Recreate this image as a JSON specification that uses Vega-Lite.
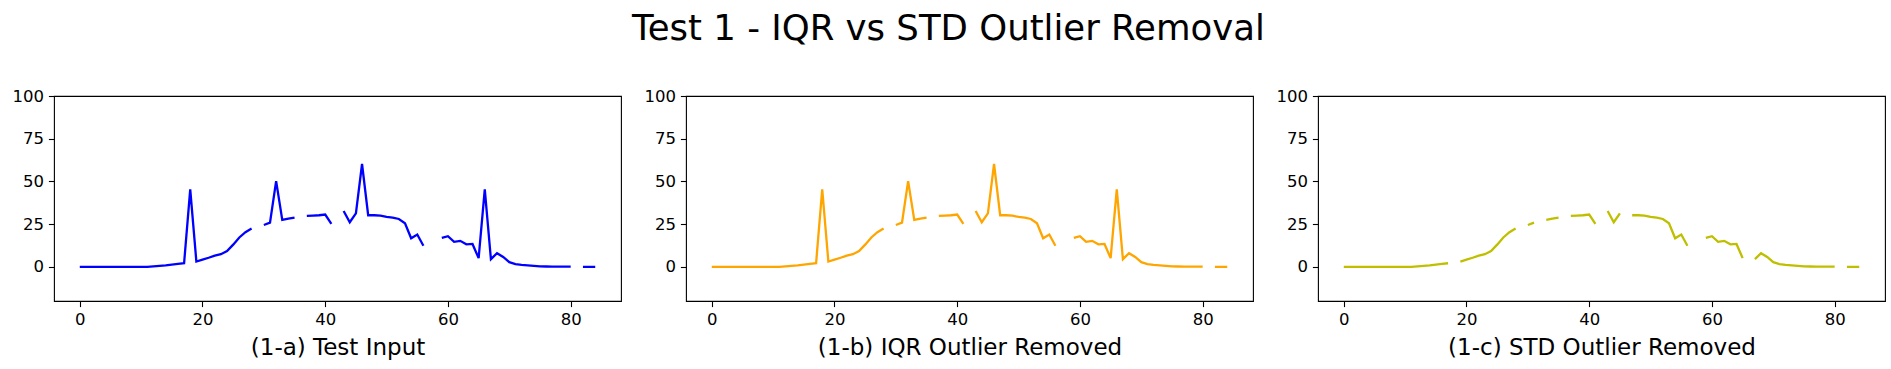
{
  "$schema": "https://vega.github.io/schema/vega-lite/v6.json",
  "padding": {"left": 11, "top": 12, "right": 5, "bottom": 5},
  "title": {"text": "Test 1 - IQR vs STD Outlier Removal", "fontSize": 35.5, "font": "DejaVu Sans", "fontWeight": "normal", "anchor": "middle", "color": "#000", "offset": 39.5},
  "datasets": {
    "input": [
      {"x":0,"v":0},{"x":1,"v":0},{"x":2,"v":0},{"x":3,"v":0},{"x":4,"v":0},{"x":5,"v":0},{"x":6,"v":0},{"x":7,"v":0},{"x":8,"v":0},{"x":9,"v":0},{"x":10,"v":0},{"x":11,"v":0},
      {"x":12,"v":0.3},{"x":13,"v":0.6},{"x":14,"v":0.9},{"x":15,"v":1.3},{"x":16,"v":1.7},{"x":17,"v":2.1},{"x":18,"v":45.3},{"x":19,"v":3.1},{"x":20,"v":4.2},{"x":21,"v":5.3},{"x":22,"v":6.6},{"x":23,"v":7.4},{"x":24,"v":9.2},{"x":25,"v":13.0},{"x":26,"v":17.2},{"x":27,"v":20.3},{"x":28,"v":22.4},{"x":29,"v":null},
      {"x":30,"v":24.5},{"x":31,"v":25.9},{"x":32,"v":50.2},{"x":33,"v":27.5},{"x":34,"v":28.2},{"x":35,"v":28.8},{"x":36,"v":null},{"x":37,"v":29.8},{"x":38,"v":30.0},{"x":39,"v":30.2},{"x":40,"v":30.6},{"x":41,"v":25.2},{"x":42,"v":null},
      {"x":43,"v":32.7},{"x":44,"v":26.1},{"x":45,"v":31.3},{"x":46,"v":60.2},{"x":47,"v":30.2},{"x":48,"v":30.2},{"x":49,"v":30.0},{"x":50,"v":29.2},{"x":51,"v":28.8},{"x":52,"v":28.0},{"x":53,"v":25.5},{"x":54,"v":16.7},{"x":55,"v":18.9},{"x":56,"v":12.3},{"x":57,"v":null},{"x":58,"v":null},
      {"x":59,"v":16.9},{"x":60,"v":17.9},{"x":61,"v":14.6},{"x":62,"v":15.2},{"x":63,"v":13.2},{"x":64,"v":13.4},{"x":65,"v":5.1},{"x":66,"v":45.4},{"x":67,"v":4.5},{"x":68,"v":8.0},{"x":69,"v":5.8},{"x":70,"v":2.7},{"x":71,"v":1.6},{"x":72,"v":1.2},{"x":73,"v":0.9},{"x":74,"v":0.6},{"x":75,"v":0.3},{"x":76,"v":0.2},{"x":77,"v":0.1},{"x":78,"v":0.1},{"x":79,"v":0.1},{"x":80,"v":0.1},{"x":81,"v":null},{"x":82,"v":0},{"x":83,"v":0},{"x":84,"v":0}
    ],
    "iqr": [
      {"x":0,"v":0},{"x":1,"v":0},{"x":2,"v":0},{"x":3,"v":0},{"x":4,"v":0},{"x":5,"v":0},{"x":6,"v":0},{"x":7,"v":0},{"x":8,"v":0},{"x":9,"v":0},{"x":10,"v":0},{"x":11,"v":0},
      {"x":12,"v":0.3},{"x":13,"v":0.6},{"x":14,"v":0.9},{"x":15,"v":1.3},{"x":16,"v":1.7},{"x":17,"v":2.1},{"x":18,"v":45.3},{"x":19,"v":3.1},{"x":20,"v":4.2},{"x":21,"v":5.3},{"x":22,"v":6.6},{"x":23,"v":7.4},{"x":24,"v":9.2},{"x":25,"v":13.0},{"x":26,"v":17.2},{"x":27,"v":20.3},{"x":28,"v":22.4},{"x":29,"v":null},
      {"x":30,"v":24.5},{"x":31,"v":25.9},{"x":32,"v":50.2},{"x":33,"v":27.5},{"x":34,"v":28.2},{"x":35,"v":28.8},{"x":36,"v":null},{"x":37,"v":29.8},{"x":38,"v":30.0},{"x":39,"v":30.2},{"x":40,"v":30.6},{"x":41,"v":25.2},{"x":42,"v":null},
      {"x":43,"v":32.7},{"x":44,"v":26.1},{"x":45,"v":31.3},{"x":46,"v":60.2},{"x":47,"v":30.2},{"x":48,"v":30.2},{"x":49,"v":30.0},{"x":50,"v":29.2},{"x":51,"v":28.8},{"x":52,"v":28.0},{"x":53,"v":25.5},{"x":54,"v":16.7},{"x":55,"v":18.9},{"x":56,"v":12.3},{"x":57,"v":null},{"x":58,"v":null},
      {"x":59,"v":16.9},{"x":60,"v":17.9},{"x":61,"v":14.6},{"x":62,"v":15.2},{"x":63,"v":13.2},{"x":64,"v":13.4},{"x":65,"v":5.1},{"x":66,"v":45.4},{"x":67,"v":4.5},{"x":68,"v":8.0},{"x":69,"v":5.8},{"x":70,"v":2.7},{"x":71,"v":1.6},{"x":72,"v":1.2},{"x":73,"v":0.9},{"x":74,"v":0.6},{"x":75,"v":0.3},{"x":76,"v":0.2},{"x":77,"v":0.1},{"x":78,"v":0.1},{"x":79,"v":0.1},{"x":80,"v":0.1},{"x":81,"v":null},{"x":82,"v":0},{"x":83,"v":0},{"x":84,"v":0}
    ],
    "std": [
      {"x":0,"v":0},{"x":1,"v":0},{"x":2,"v":0},{"x":3,"v":0},{"x":4,"v":0},{"x":5,"v":0},{"x":6,"v":0},{"x":7,"v":0},{"x":8,"v":0},{"x":9,"v":0},{"x":10,"v":0},{"x":11,"v":0},
      {"x":12,"v":0.3},{"x":13,"v":0.6},{"x":14,"v":0.9},{"x":15,"v":1.3},{"x":16,"v":1.7},{"x":17,"v":2.1},{"x":18,"v":null},{"x":19,"v":3.1},{"x":20,"v":4.2},{"x":21,"v":5.3},{"x":22,"v":6.6},{"x":23,"v":7.4},{"x":24,"v":9.2},{"x":25,"v":13.0},{"x":26,"v":17.2},{"x":27,"v":20.3},{"x":28,"v":22.4},{"x":29,"v":null},
      {"x":30,"v":24.5},{"x":31,"v":25.9},{"x":32,"v":null},{"x":33,"v":27.5},{"x":34,"v":28.2},{"x":35,"v":28.8},{"x":36,"v":null},{"x":37,"v":29.8},{"x":38,"v":30.0},{"x":39,"v":30.2},{"x":40,"v":30.6},{"x":41,"v":25.2},{"x":42,"v":null},
      {"x":43,"v":32.7},{"x":44,"v":26.1},{"x":45,"v":31.3},{"x":46,"v":null},{"x":47,"v":30.2},{"x":48,"v":30.2},{"x":49,"v":30.0},{"x":50,"v":29.2},{"x":51,"v":28.8},{"x":52,"v":28.0},{"x":53,"v":25.5},{"x":54,"v":16.7},{"x":55,"v":18.9},{"x":56,"v":12.3},{"x":57,"v":null},{"x":58,"v":null},
      {"x":59,"v":16.9},{"x":60,"v":17.9},{"x":61,"v":14.6},{"x":62,"v":15.2},{"x":63,"v":13.2},{"x":64,"v":13.4},{"x":65,"v":5.1},{"x":66,"v":null},{"x":67,"v":4.5},{"x":68,"v":8.0},{"x":69,"v":5.8},{"x":70,"v":2.7},{"x":71,"v":1.6},{"x":72,"v":1.2},{"x":73,"v":0.9},{"x":74,"v":0.6},{"x":75,"v":0.3},{"x":76,"v":0.2},{"x":77,"v":0.1},{"x":78,"v":0.1},{"x":79,"v":0.1},{"x":80,"v":0.1},{"x":81,"v":null},{"x":82,"v":0},{"x":83,"v":0},{"x":84,"v":0}
    ]
  },
  "spacing": 21,
  "hconcat": [
    {
      "width": 567, "height": 205,
      "data": {"name": "input"},
      "mark": {"type": "line", "color": "#0000ff", "strokeWidth": 2.3, "invalid": "break-paths-show-domains"},
      "encoding": {
        "x": {"field": "x", "type": "quantitative", "scale": {"domain": [-4.2, 88.2], "nice": false, "zero": false}, "axis": {"values": [0, 20, 40, 60, 80], "title": "(1-a) Test Input"}},
        "y": {"field": "v", "type": "quantitative", "scale": {"domain": [-20, 100], "nice": false, "zero": false}, "axis": {"values": [0, 25, 50, 75, 100], "title": null}}
      }
    },
    {
      "width": 567, "height": 205,
      "data": {"name": "iqr"},
      "mark": {"type": "line", "color": "#ffa500", "strokeWidth": 2.3, "invalid": "break-paths-show-domains"},
      "encoding": {
        "x": {"field": "x", "type": "quantitative", "scale": {"domain": [-4.2, 88.2], "nice": false, "zero": false}, "axis": {"values": [0, 20, 40, 60, 80], "title": "(1-b) IQR Outlier Removed"}},
        "y": {"field": "v", "type": "quantitative", "scale": {"domain": [-20, 100], "nice": false, "zero": false}, "axis": {"values": [0, 25, 50, 75, 100], "title": null}}
      }
    },
    {
      "width": 567, "height": 205,
      "data": {"name": "std"},
      "mark": {"type": "line", "color": "#bfbf00", "strokeWidth": 2.3, "invalid": "break-paths-show-domains"},
      "encoding": {
        "x": {"field": "x", "type": "quantitative", "scale": {"domain": [-4.2, 88.2], "nice": false, "zero": false}, "axis": {"values": [0, 20, 40, 60, 80], "title": "(1-c) STD Outlier Removed"}},
        "y": {"field": "v", "type": "quantitative", "scale": {"domain": [-20, 100], "nice": false, "zero": false}, "axis": {"values": [0, 25, 50, 75, 100], "title": null}}
      }
    }
  ],
  "config": {
    "background": "#ffffff",
    "view": {"stroke": "#000", "strokeWidth": 1.1},
    "axis": {"domain": false, "grid": false, "tickColor": "#000", "tickSize": 5.6, "tickWidth": 1.1, "labelFont": "DejaVu Sans", "labelFontSize": 16.5, "labelColor": "#000", "labelPadding": 5, "titleFont": "DejaVu Sans", "titleFontSize": 23, "titleFontWeight": "normal", "titleColor": "#000", "titlePadding": 8}
  }
}
